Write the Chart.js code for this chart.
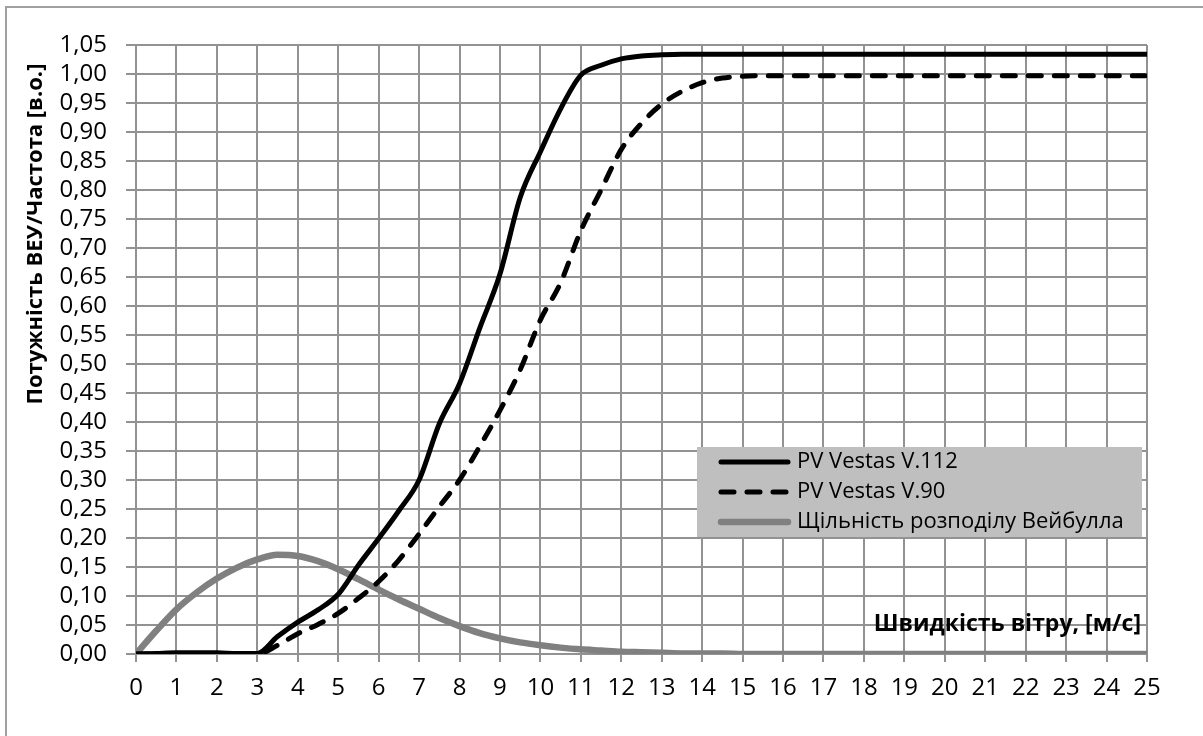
<!DOCTYPE html>
<html lang="uk">
<head>
    <meta charset="UTF-8">
    <title>PV Vestas</title>
    <script src="https://cdn.jsdelivr.net/npm/chart.js"></script>
    <style>
        body { margin: 0; background: #fff; }
    </style>
</head>
<body>
    <div style="width:1203px;height:736px">
        <canvas id="myChart" width="1203" height="736"></canvas>
    </div>
    <script>
        const windSpeed = [0, 0.5, 1, 1.5, 2, 2.5, 3, 3.5, 4, 4.5, 5, 5.5, 6, 6.5, 7, 7.5, 8, 8.5, 9, 9.5,
            10, 10.5, 11, 11.5, 12, 12.5, 13, 13.5, 14, 14.5, 15, 15.5, 16, 16.5, 17, 17.5, 18, 18.5, 19, 19.5,
            20, 20.5, 21, 21.5, 22, 22.5, 23, 23.5, 24, 24.5, 25];

        const pvV112 = [0, 0.001, 0.002, 0.002, 0.002, 0.001, 0.001, 0.03, 0.055, 0.076, 0.103, 0.153, 0.199, 0.247,
            0.30, 0.397, 0.466, 0.562, 0.655, 0.787, 0.866, 0.94, 0.998, 1.015, 1.026, 1.031, 1.033, 1.034,
            1.034, 1.034, 1.034, 1.034, 1.034, 1.034, 1.034, 1.034, 1.034, 1.034, 1.034, 1.034, 1.034, 1.034,
            1.034, 1.034, 1.034, 1.034, 1.034, 1.034, 1.034, 1.034, 1.034];

        const pvV90 = [0, 0, 0, 0, 0, 0, 0, 0.015, 0.035, 0.051, 0.07, 0.096, 0.125, 0.162, 0.207, 0.254,
            0.30, 0.358, 0.42, 0.49, 0.576, 0.64, 0.73, 0.80, 0.87, 0.915, 0.948, 0.97, 0.985, 0.993, 0.996,
            0.997, 0.997, 0.997, 0.997, 0.997, 0.997, 0.997, 0.997, 0.997, 0.997, 0.997, 0.997, 0.997, 0.997,
            0.997, 0.997, 0.997, 0.997, 0.997, 0.997];

        const weibull = [0, 0.04, 0.077, 0.106, 0.13, 0.149, 0.163, 0.171, 0.169, 0.16, 0.146, 0.129, 0.111,
            0.094, 0.078, 0.062, 0.048, 0.036, 0.027, 0.02, 0.015, 0.011, 0.008, 0.006, 0.004, 0.003, 0.002,
            0.001, 0.001, 0.001, 0, 0, 0, 0, 0, 0, 0, 0, 0, 0, 0, 0, 0, 0, 0, 0, 0, 0, 0, 0, 0];

        const seriesNames = ['PV Vestas V.112', 'PV Vestas V.90', 'Щільність розподілу Вейбулла'];
        const yTitle = 'Потужність ВЕУ/Частота [в.о.]';
        const xTitle = 'Швидкість вітру, [м/с]';

        const font = '"Open Sans", "DejaVu Sans", sans-serif';
        const gridColor = '#929292';

        function points(values) {
            return windSpeed.map((x, i) => ({ x: x, y: values[i] }));
        }

        // frame, axis titles and legend box
        const decor = {
            id: 'decor',
            beforeDraw(chart) {
                const ctx = chart.ctx;
                ctx.save();
                ctx.fillStyle = '#fff';
                ctx.fillRect(0, 0, chart.width, chart.height);
                ctx.strokeStyle = '#a0a0a0';
                ctx.lineWidth = 2;
                ctx.strokeRect(6, 7, chart.width + 10, chart.height + 10);
                ctx.restore();
            },
            afterDatasetsDraw(chart) {
                const ctx = chart.ctx;
                ctx.save();
                // y title
                ctx.fillStyle = '#000';
                ctx.font = 'bold 22px ' + font;
                ctx.textAlign = 'center';
                ctx.textBaseline = 'middle';
                ctx.translate(36, 234);
                ctx.rotate(-Math.PI / 2);
                ctx.fillText(yTitle, 0, 0);
                ctx.restore();

                // x title inside the plot
                ctx.save();
                ctx.fillStyle = '#000';
                ctx.font = 'bold 23px ' + font;
                ctx.textAlign = 'right';
                ctx.textBaseline = 'middle';
                ctx.fillText(xTitle, 1141, 624);
                ctx.restore();

                // legend
                ctx.save();
                ctx.fillStyle = '#bfbfbf';
                ctx.fillRect(697, 447, 445, 90);
                const rows = [462, 492, 522];
                chart.data.datasets.forEach((ds, i) => {
                    const y = rows[i];
                    ctx.beginPath();
                    ctx.strokeStyle = ds.borderColor;
                    ctx.lineWidth = ds.borderWidth;
                    ctx.lineCap = 'round';
                    ctx.setLineDash(ds.borderDash || []);
                    ctx.moveTo(721, y);
                    ctx.lineTo(788, y);
                    ctx.stroke();
                    ctx.setLineDash([]);
                    ctx.fillStyle = '#000';
                    ctx.font = '22px ' + font;
                    ctx.textAlign = 'left';
                    ctx.textBaseline = 'middle';
                    ctx.fillText(ds.label, 797, y);
                });
                ctx.restore();
            }
        };

        const ctx = document.getElementById('myChart');
        const myChart = new Chart(ctx, {
            type: 'line',
            data: {
                datasets: [{
                    label: seriesNames[0],
                    data: points(pvV112),
                    borderColor: '#000',
                    borderWidth: 5,
                    borderCapStyle: 'round',
                    cubicInterpolationMode: 'monotone',
                    pointRadius: 0,
                    fill: false
                }, {
                    label: seriesNames[1],
                    data: points(pvV90),
                    borderColor: '#000',
                    borderWidth: 5,
                    borderDash: [13, 13],
                    borderCapStyle: 'round',
                    cubicInterpolationMode: 'monotone',
                    pointRadius: 0,
                    fill: false
                }, {
                    label: seriesNames[2],
                    data: points(weibull),
                    borderColor: '#808080',
                    borderWidth: 6.5,
                    borderCapStyle: 'round',
                    cubicInterpolationMode: 'monotone',
                    pointRadius: 0,
                    fill: false
                }]
            },
            options: {
                responsive: false,
                animation: false,
                layout: { padding: { left: 0, top: 45, right: 56, bottom: 0 } },
                plugins: {
                    legend: { display: false },
                    tooltip: { enabled: false }
                },
                scales: {
                    x: {
                        type: 'linear',
                        min: 0,
                        max: 25,
                        ticks: {
                            stepSize: 1,
                            autoSkip: false,
                            maxRotation: 0,
                            padding: 12,
                            color: '#000',
                            font: { family: font, size: 24 }
                        },
                        grid: { color: gridColor, lineWidth: 2, tickLength: 8 },
                        border: { color: gridColor, width: 2 },
                        afterFit(scale) { scale.height = 82; }
                    },
                    y: {
                        min: 0,
                        max: 1.05,
                        ticks: {
                            stepSize: 0.05,
                            autoSkip: false,
                            padding: 19,
                            color: '#000',
                            font: { family: font, size: 24 },
                            callback: (v) => v.toFixed(2).replace('.', ',')
                        },
                        grid: { color: gridColor, lineWidth: 2, tickLength: 10 },
                        border: { color: gridColor, width: 2 },
                        afterFit(scale) { scale.width = 136; }
                    }
                }
            },
            plugins: [decor]
        });
    </script>
</body>
</html>
